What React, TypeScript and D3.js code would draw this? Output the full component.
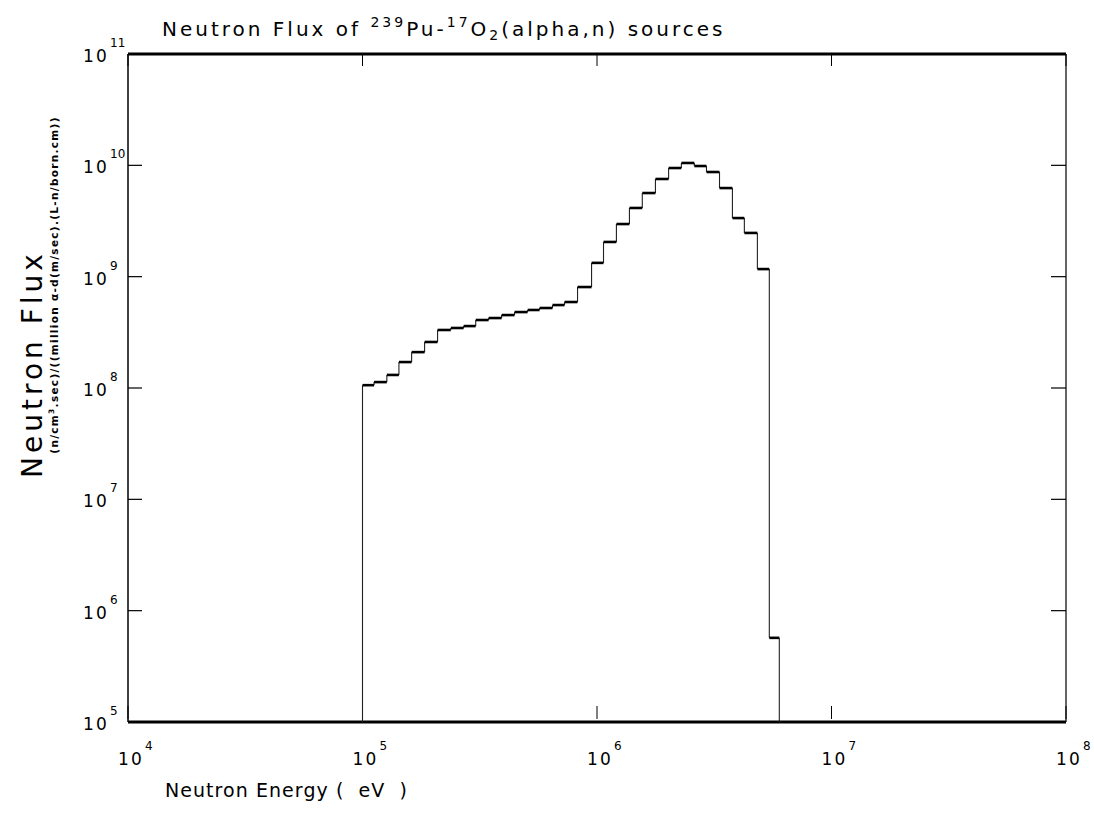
import React from "react";
import * as d3 from "d3";

// Bin edges (eV) and flux per bin
const binEdges: number[] = [
  1.0e5, 1.12e5, 1.27e5, 1.43e5, 1.62e5, 1.84e5, 2.09e5, 2.38e5, 2.7e5, 3.04e5,
  3.45e5, 3.92e5, 4.45e5, 5.06e5, 5.69e5, 6.46e5, 7.27e5, 8.26e5, 9.48e5, 1.066e6,
  1.21e6, 1.375e6, 1.56e6, 1.775e6, 2.02e6, 2.29e6, 2.6e6, 2.93e6, 3.33e6, 3.78e6,
  4.25e6, 4.83e6, 5.43e6, 5.99e6,
];
const fluxValues: number[] = [
  1.06e8, 1.13e8, 1.31e8, 1.71e8, 2.1e8, 2.59e8, 3.32e8, 3.46e8, 3.6e8, 4.08e8,
  4.25e8, 4.52e8, 4.81e8, 5.02e8, 5.23e8, 5.56e8, 5.92e8, 8.07e8, 1.33e9, 2.05e9,
  2.97e9, 4.14e9, 5.64e9, 7.54e9, 9.46e9, 1.05e10, 9.86e9, 8.71e9, 6.25e9, 3.36e9,
  2.47e9, 1.17e9, 5.7e5,
];
const xTickExponents: number[] = [4, 5, 6, 7, 8];
const yTickExponents: number[] = [5, 6, 7, 8, 9, 10, 11];

const W = 1094;
const H = 823;
const FONT = "'DejaVu Sans', sans-serif";

function TenLabel({ x, y, exp }: { x: number; y: number; exp: number }) {
  // "1", gap, "0", then raised exponent
  return (
    <g>
      <text x={x} y={y} fontSize={17} fill="#000">1</text>
      <text x={x + 13} y={y} fontSize={17} fill="#000">0</text>
      <text x={x + 27} y={y - 15} fontSize={12} fill="#000">{exp}</text>
    </g>
  );
}

export default function App() {
  const x = d3.scaleLog().domain([1e4, 1e8]).range([128, 1066]);
  const y = d3.scaleLog().domain([1e5, 1e11]).range([722, 54]);
  const yBottom = y(1e5);

  const horiz = fluxValues.map((v, i) => ({
    x1: x(binEdges[i]),
    x2: x(binEdges[i + 1]),
    y: y(v),
  }));
  const verts: { x: number; y1: number; y2: number }[] = [];
  verts.push({ x: x(binEdges[0]), y1: yBottom, y2: y(fluxValues[0]) });
  for (let i = 1; i < fluxValues.length; i++) {
    verts.push({ x: x(binEdges[i]), y1: y(fluxValues[i - 1]), y2: y(fluxValues[i]) });
  }
  verts.push({
    x: x(binEdges[binEdges.length - 1]),
    y1: y(fluxValues[fluxValues.length - 1]),
    y2: yBottom,
  });

  const [xl, xr] = x.range();
  const [yb, yt] = y.range();

  return (
    <svg
      width={W}
      height={H}
      style={{ position: "absolute", left: 0, top: 0, background: "#fff" }}
      fontFamily={FONT}
    >
      <rect x={0} y={0} width={W} height={H} fill="#fff" />
      {/* frame */}
      <line x1={xl} x2={xr} y1={yt} y2={yt} stroke="#000" strokeWidth={3} />
      <line x1={xl} x2={xr} y1={yb} y2={yb} stroke="#000" strokeWidth={3} />
      <line x1={xl} x2={xl} y1={yt} y2={yb} stroke="#000" strokeWidth={1.5} />
      <line x1={xr} x2={xr} y1={yt} y2={yb} stroke="#111" strokeWidth={1.3} />

      {/* y ticks */}
      {yTickExponents.map((e) => {
        const yy = y(Math.pow(10, e));
        return (
          <g key={"y" + e}>
            <line x1={xl} x2={xl + 14} y1={yy} y2={yy} stroke="#000" strokeWidth={1.2} />
            <line x1={xr - 15} x2={xr} y1={yy} y2={yy} stroke="#000" strokeWidth={1.2} />
            <TenLabel x={xl - 45} y={yy + 8} exp={e} />
          </g>
        );
      })}

      {/* x ticks */}
      {xTickExponents.map((e) => {
        const xx = x(Math.pow(10, e));
        return (
          <g key={"x" + e}>
            <line x1={xx} x2={xx} y1={yb - 3} y2={yb - 16} stroke="#000" strokeWidth={1} />
            <line x1={xx} x2={xx} y1={yt} y2={yt + 12} stroke="#000" strokeWidth={1} />
            <TenLabel x={xx - 10} y={yb + 43} exp={e} />
          </g>
        );
      })}

      {/* step curve */}
      {verts.map((s, i) => (
        <line key={"v" + i} x1={s.x} x2={s.x} y1={s.y1} y2={s.y2} stroke="#222" strokeWidth={1.1} />
      ))}
      {horiz.map((s, i) => (
        <line key={"h" + i} x1={s.x1} x2={s.x2} y1={s.y} y2={s.y} stroke="#000" strokeWidth={2.6} />
      ))}

      {/* title */}
      <text x={162} y={36} fontSize={20} letterSpacing={3} fill="#000">
        <tspan>Neutron Flux of </tspan>
        <tspan fontSize={14} dy={-9}>239</tspan>
        <tspan dy={9}>Pu-</tspan>
        <tspan fontSize={14} dy={-9}>17</tspan>
        <tspan dy={9}>O</tspan>
        <tspan fontSize={14} dy={4}>2</tspan>
        <tspan dy={-4}>(alpha,n) sources</tspan>
      </text>

      {/* y label */}
      <text
        transform="translate(42,364) rotate(-90)"
        textAnchor="middle"
        fontSize={28}
        letterSpacing={4}
        fill="#000"
      >
        Neutron Flux
      </text>
      <text
        transform="translate(58,285) rotate(-90)"
        textAnchor="middle"
        fontSize={10.5}
        fontWeight="bold"
        letterSpacing={1.3}
        fill="#000"
      >
        (n/cm<tspan fontSize={7.5} dy={-4}>3</tspan>
        <tspan dy={4}>.sec)/((million α-d(m/sec).(L-n/born.cm))</tspan>
      </text>

      {/* x label */}
      <text
        x={165}
        y={797}
        fontSize={19}
        textLength={242}
        lengthAdjust="spacing"
        fill="#000"
        style={{ whiteSpace: "pre" }}
      >
        {"Neutron Energy (  eV  )"}
      </text>
    </svg>
  );
}
